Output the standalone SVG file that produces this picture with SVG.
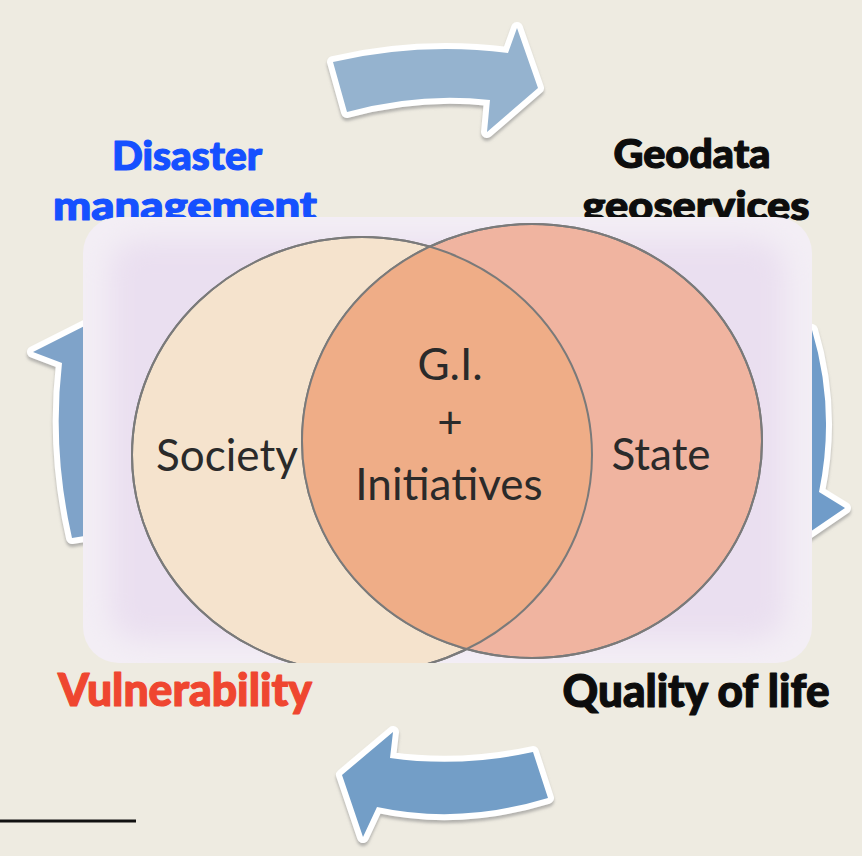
<svg xmlns="http://www.w3.org/2000/svg" width="862" height="856" viewBox="0 0 862 856">
  <style>
    .arrow { stroke: #ffffff; stroke-width: 12; stroke-linejoin: round; paint-order: stroke; }
    .lbl { font-family: Lato, "Open Sans", "Liberation Sans", sans-serif; font-weight: 900; stroke-width: 1.2; stroke-linejoin: round; }
    .vt { font-family: Lato, "Open Sans", "Liberation Sans", sans-serif; font-size: 44px; fill: #2a2a2a; text-anchor: middle; }
    .circ { stroke: #7a7a7a; stroke-width: 2; }
  </style>
  <defs>
    <filter id="sh" x="-10%" y="-10%" width="130%" height="130%">
      <feDropShadow dx="0" dy="3" stdDeviation="1.5" flood-color="#8a8a8a" flood-opacity="0.6"/>
    </filter>
    <filter id="blur" x="-10%" y="-10%" width="120%" height="120%">
      <feGaussianBlur stdDeviation="14"/>
    </filter>
    <clipPath id="pc">
      <rect x="83" y="217" width="729" height="446" rx="36"/>
    </clipPath>
    <clipPath id="lc">
      <ellipse cx="362" cy="455" rx="230" ry="218"/>
    </clipPath>
  </defs>

  <rect width="862" height="856" fill="#eeebe1"/>

  <g id="connectors">
    <path id="arrow-top" class="arrow" filter="url(#sh)" fill="#95b3cf"
      d="M333,62 Q420,42 508,53 L517,28 L538,88 L487,132 L490,100 Q420,92 347,112 Z"/>
    <path id="arrow-right" class="arrow" filter="url(#sh)" fill="#6f9cc9"
      d="M770,318 L812,330 Q836,410 819,492 L845,508 L760,566 L718,470 L768,482 Q782,400 770,318 Z"/>
    <path id="arrow-bottom" class="arrow" filter="url(#sh)" fill="#739ec7"
      d="M533,752 Q460,768 390,758 L393,732 L342,775 L363,837 L377,807 Q460,825 548,798 Z"/>
    <path id="arrow-left" class="arrow" filter="url(#sh)" fill="#7fa3c9"
      d="M33,352 L140,298 L160,380 L125,372 Q118,450 122,530 L72,538 Q52,450 62,363 Z"/>
  </g>

  <g id="label-disaster" class="lbl" fill="#1550ff" stroke="#1550ff">
    <text x="187" y="170" font-size="40" text-anchor="middle" textLength="150" lengthAdjust="spacingAndGlyphs">Disaster</text>
    <text x="185" y="220" font-size="40" text-anchor="middle" textLength="264" lengthAdjust="spacingAndGlyphs">management</text>
  </g>
  <g id="label-geodata" class="lbl" fill="#0d0d0d" stroke="#0d0d0d">
    <text x="692" y="168" font-size="40" text-anchor="middle" textLength="157" lengthAdjust="spacingAndGlyphs">Geodata</text>
    <text x="696" y="220" font-size="40" text-anchor="middle" textLength="227" lengthAdjust="spacingAndGlyphs">geoservices</text>
  </g>
  <g id="label-vulnerability" class="lbl" fill="#ef4630" stroke="#ef4630">
    <text x="185" y="706" font-size="46" text-anchor="middle" textLength="254" lengthAdjust="spacingAndGlyphs">Vulnerability</text>
  </g>
  <g id="label-quality" class="lbl" fill="#0d0d0d" stroke="#0d0d0d">
    <text x="696" y="707" font-size="46" text-anchor="middle" textLength="267" lengthAdjust="spacingAndGlyphs">Quality of life</text>
  </g>

  <g id="panel">
    <rect x="83" y="217" width="729" height="446" rx="36" fill="#f3eef5"/>
    <g clip-path="url(#pc)">
      <rect x="110" y="240" width="675" height="400" rx="30" fill="#eadff0" filter="url(#blur)"/>
    </g>
  </g>

  <g id="venn" clip-path="url(#pc)">
    <g id="node-society">
      <ellipse class="circ" cx="362" cy="455" rx="230" ry="218" fill="#f5e3cd"/>
    </g>
    <g id="node-state">
      <ellipse class="circ" cx="532" cy="441" rx="230" ry="217" fill="#f0b4a0"/>
    </g>
    <g id="node-gi">
      <ellipse cx="532" cy="441" rx="230" ry="217" fill="#efad87" clip-path="url(#lc)"/>
      <ellipse cx="362" cy="455" rx="230" ry="218" fill="none" class="circ"/>
      <ellipse cx="532" cy="441" rx="230" ry="217" fill="none" class="circ"/>
    </g>
  </g>
  <text class="vt" x="227" y="471">Society</text>
  <text class="vt" x="661" y="470">State</text>
  <text class="vt" x="450" y="380">G.I.</text>
  <text class="vt" x="450" y="438">+</text>
  <text class="vt" x="449" y="500">Initiatives</text>

  <line x1="0" y1="821" x2="136" y2="821" stroke="#111111" stroke-width="3"/>
</svg>
